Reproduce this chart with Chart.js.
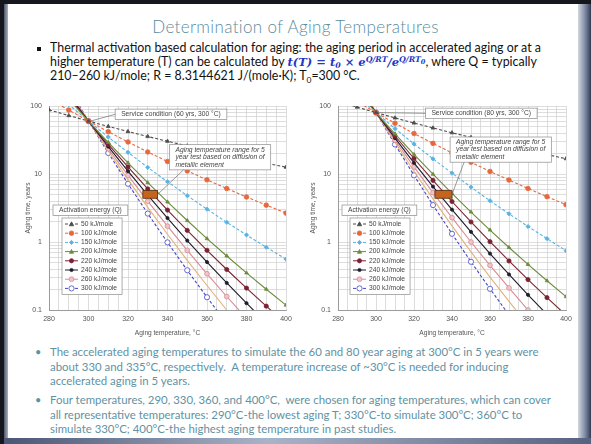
<!DOCTYPE html>
<html>
<head>
<meta charset="utf-8">
<script src="https://cdn.jsdelivr.net/npm/chart.js@4.4.1/dist/chart.umd.min.js"></script>
<style>
  html, body { margin: 0; padding: 0; }
  body { width: 591px; height: 444px; position: relative; overflow: hidden; background: #15171d; font-family: Lato, "Liberation Sans", sans-serif; }
  #frame-left { position: absolute; left: 4px; top: 4px; width: 5px; height: 436px; background: linear-gradient(to right, #4f586c, #c0c6d2); }
  #frame-right { position: absolute; left: 578px; top: 4px; width: 13px; height: 440px; background: linear-gradient(to right, #d3d7df, #7d89a3 55%, #333b52); }
  #frame-bottom { position: absolute; left: 4px; top: 438px; width: 587px; height: 6px; background: linear-gradient(to right, #4a5673, #a9b3c8 45%, #56627f); }
  #slide { position: absolute; left: 8px; top: 4px; width: 570px; height: 434px; background: #fff; }
  #title { position: absolute; left: 0; top: 16px; width: 591px; text-align: center; font-size: 17px; font-weight: 300; letter-spacing: 0.35px; color: #5a8d9e; }
  .txt { position: absolute; left: 50px; white-space: nowrap; }
  #b1 { top: 41px; font-size: 12.4px; line-height: 14px; color: #111; }
  #b2 { top: 345px; font-size: 11.4px; line-height: 14.6px; color: #5f92a3; }
  #b3 { top: 393px; font-size: 11.4px; line-height: 14.6px; color: #5f92a3; }
  .sq { position: absolute; left: 37px; width: 4px; height: 4px; background: #111; }
  .dot { position: absolute; left: 35px; font-size: 11px; color: #5f92a3; }
  .f { font-family: "DejaVu Serif", "Liberation Serif", serif; font-weight: bold; font-style: italic; color: #2436c8; font-size: 11.5px; }
  .f .n { font-style: normal; }
  sub, sup { font-size: 0.68em; line-height: 0; position: relative; vertical-align: baseline; }
  sub { top: 0.3em; }
  sup { top: -0.5em; }
  sup sub { font-size: 0.85em; top: 0.25em; }
  canvas { position: absolute; }
  #chartLeft { left: 20px; top: 98px; }
  #chartRight { left: 300px; top: 98px; }
</style>
</head>
<body>
<div id="frame-left"></div>
<div id="frame-right"></div>
<div id="frame-bottom"></div>
<div id="slide"></div>

<div id="title">Determination of Aging Temperatures</div>

<div class="sq" style="top:47px"></div>
<div id="b1" class="txt">
  <div>Thermal activation based calculation for aging: the aging period in accelerated aging or at a</div>
  <div>higher temperature (T) can be calculated by <span class="f">t(T) <span class="n">=</span> t<sub>0</sub> <span class="n">×</span> e<sup>Q/RT</sup>/e<sup>Q/RT<sub>0</sub></sup></span>, where Q = typically</div>
  <div>210–260 kJ/mole; R = 8.3144621 J/(mole·K); T<sub>0</sub>=300 °C.</div>
</div>

<canvas id="chartLeft" width="272" height="245"></canvas>
<canvas id="chartRight" width="272" height="245"></canvas>

<div class="dot" style="top:345px">•</div>
<div id="b2" class="txt">
  <div>The accelerated aging temperatures to simulate the 60 and 80 year aging at 300°C in 5 years were</div>
  <div>about 330 and 335°C, respectively.&nbsp; A temperature increase of ~30°C is needed for inducing</div>
  <div>accelerated aging in 5 years.</div>
</div>
<div class="dot" style="top:393px">•</div>
<div id="b3" class="txt">
  <div>Four temperatures, 290, 330, 360, and 400°C,&nbsp; were chosen for aging temperatures, which can cover</div>
  <div>all representative temperatures: 290°C-the lowest aging T; 330°C-to simulate 300°C; 360°C to</div>
  <div>simulate 330°C; 400°C-the highest aging temperature in past studies.</div>
</div>

<script>
// aging temperature, °C (one point every 10 °C)
const temperatures = [280, 290, 300, 310, 320, 330, 340, 350, 360, 370, 380, 390, 400];
const yLabelTicks = [0.1, 1, 10, 100];

// aging time, years - 60 yrs service at 300 °C
const q50_60  = [87.7, 72.3, 60, 50.1, 42.1, 35.6, 30.3, 25.9, 22.2, 19.2, 16.6, 14.4, 12.6];
const q100_60 = [128, 87.1, 60, 41.9, 29.6, 21.1, 15.3, 11.1, 8.21, 6.11, 4.59, 3.48, 2.66];
const q150_60 = [187, 105, 60, 35.0, 20.8, 12.5, 7.70, 4.80, 3.04, 1.95, 1.27, 0.837, 0.559];
const q200_60 = [274, 126, 60, 29.2, 14.6, 7.44, 3.88, 2.07, 1.12, 0.623, 0.351, 0.202, 0.118];
const q220_60 = [318, 136, 60, 27.2, 12.7, 6.04, 2.95, 1.48, 0.755, 0.394, 0.210, 0.114, 0.063];
const q240_60 = [371, 147, 60, 25.3, 11.0, 4.90, 2.25, 1.05, 0.507, 0.250, 0.126, 0.0645, 0.0338];
const q260_60 = [431, 158, 60, 23.5, 9.53, 3.98, 1.71, 0.753, 0.341, 0.158, 0.0751, 0.0365, 0.0181];
const q280_60 = [502, 170, 60, 21.9, 8.27, 3.23, 1.30, 0.538, 0.229, 0.100, 0.0449, 0.0206, 0.0097];
const q300_60 = [584, 184, 60, 20.4, 7.18, 2.62, 0.987, 0.384, 0.154, 0.0634, 0.0269, 0.0117, 0.0052];

// aging time, years - 80 yrs service at 300 °C
const q50_80  = [116.9, 96.4, 80, 66.8, 56.2, 47.5, 40.4, 34.5, 29.6, 25.5, 22.1, 19.3, 16.8];
const q100_80 = [171, 116, 80, 55.8, 39.4, 28.2, 20.4, 14.9, 10.9, 8.15, 6.12, 4.64, 3.54];
const q150_80 = [250, 140, 80, 46.6, 27.7, 16.7, 10.3, 6.40, 4.05, 2.60, 1.69, 1.12, 0.745];
const q200_80 = [365, 169, 80, 38.9, 19.4, 9.92, 5.18, 2.76, 1.50, 0.830, 0.468, 0.269, 0.157];
const q220_80 = [425, 182, 80, 36.2, 16.9, 8.05, 3.94, 1.97, 1.01, 0.526, 0.280, 0.152, 0.084];
const q240_80 = [494, 196, 80, 33.7, 14.6, 6.53, 2.99, 1.41, 0.676, 0.333, 0.167, 0.086, 0.045];
const q260_80 = [575, 211, 80, 31.4, 12.7, 5.30, 2.28, 1.00, 0.454, 0.211, 0.100, 0.0486, 0.0242];
const q280_80 = [669, 227, 80, 29.2, 11.0, 4.30, 1.73, 0.717, 0.305, 0.134, 0.0599, 0.0275, 0.0129];
const q300_80 = [779, 245, 80, 27.2, 9.57, 3.49, 1.32, 0.512, 0.205, 0.0846, 0.0358, 0.0156, 0.0069];

// legend names (the 280 kJ/mole curve has no legend entry)
const seriesNames = ['50 kJ/mole', '100 kJ/mole', '150 kJ/mole', '200 kJ/mole', '220 kJ/mole',
                     '240 kJ/mole', '260 kJ/mole', '', '300 kJ/mole'];

// service points and the 5-year aging window
const serviceLeft = [300, 60];
const serviceRight = [300, 80];
const windowLeft = [327.5, 335];
const windowRight = [331, 340];
const windowYears = [4.4, 5.7];

const seriesStyles = [
    {color: '#4d4d4d', dash: [3, 2], point: 'triangle', r: 2.2, fill: '#4d4d4d'},
    {color: '#e9673d', dash: [3, 2], point: 'circle', r: 2.3, fill: '#e9673d'},
    {color: '#56b3e3', dash: [3, 2], point: 'rectRot', r: 2.1, fill: '#56b3e3'},
    {color: '#6d8b3c', dash: [], point: 'triangle', r: 2.1, fill: '#6d8b3c'},
    {color: '#7b2232', dash: [], point: 'circle', r: 2.1, fill: '#7b2232'},
    {color: '#1d1d2b', dash: [], point: 'circle', r: 1.6, fill: '#1d1d2b'},
    {color: '#d88a94', dash: [], point: 'circle', r: 2.4, fill: '#f2c4ca'},
    {color: '#e2b27a', dash: [], point: false, r: 0, fill: '#e2b27a'},
    {color: '#4646c8', dash: [3, 2], point: 'circle', r: 2.6, fill: '#ffffff'}
];

var NOTE_FONT = '6.7px "Liberation Sans", Arial, sans-serif';
var NOTE_LINE = 7.4;

function drawMarker(ctx, style, x, y) {
    if (!style.point) return;
    var r = style.r;
    ctx.save();
    ctx.setLineDash([]);
    ctx.fillStyle = style.fill;
    ctx.strokeStyle = style.color;
    ctx.lineWidth = 0.8;
    ctx.beginPath();
    if (style.point === 'circle') {
        ctx.arc(x, y, r, 0, Math.PI * 2);
    } else if (style.point === 'triangle') {
        ctx.moveTo(x, y - r);
        ctx.lineTo(x + r, y + r * 0.8);
        ctx.lineTo(x - r, y + r * 0.8);
        ctx.closePath();
    } else {
        ctx.moveTo(x, y - r);
        ctx.lineTo(x + r, y);
        ctx.lineTo(x, y + r);
        ctx.lineTo(x - r, y);
        ctx.closePath();
    }
    ctx.fill();
    ctx.stroke();
    ctx.restore();
}

function textBox(ctx, lines, x, y, italic) {
    ctx.font = (italic ? 'italic ' : '') + NOTE_FONT;
    var w = 0;
    lines.forEach(function (l) { w = Math.max(w, ctx.measureText(l).width); });
    var box = {x: x, y: y, w: w + 12, h: lines.length * NOTE_LINE + 3};
    ctx.fillStyle = '#fff';
    ctx.strokeStyle = '#8c8c8c';
    ctx.lineWidth = 0.7;
    ctx.fillRect(box.x, box.y, box.w, box.h);
    ctx.strokeRect(box.x, box.y, box.w, box.h);
    ctx.fillStyle = '#444';
    ctx.textBaseline = 'middle';
    ctx.textAlign = 'left';
    lines.forEach(function (l, i) { ctx.fillText(l, box.x + 6, box.y + 1.5 + NOTE_LINE / 2 + i * NOTE_LINE); });
    return box;
}

// service / aging call-outs and the activation energy legend
function makeNotes(cfg) {
    return {
        id: 'notes',
        afterDraw: function (chart) {
            var ctx = chart.ctx, a = chart.chartArea;
            var xs = chart.scales.x, ys = chart.scales.y;
            ctx.save();

            // 5-year window marker
            var rx0 = xs.getPixelForValue(cfg.window[0]), rx1 = xs.getPixelForValue(cfg.window[1]);
            var ry0 = ys.getPixelForValue(windowYears[1]), ry1 = ys.getPixelForValue(windowYears[0]);
            ctx.fillStyle = '#c4651f';
            ctx.strokeStyle = '#5a2a0a';
            ctx.lineWidth = 0.8;
            ctx.fillRect(rx0, ry0, rx1 - rx0, ry1 - ry0);
            ctx.strokeRect(rx0, ry0, rx1 - rx0, ry1 - ry0);

            // service condition call-out
            var px = xs.getPixelForValue(cfg.service[0]), py = ys.getPixelForValue(cfg.service[1]);
            var sb = textBox(ctx, [cfg.serviceText], xs.getPixelForValue(cfg.serviceBox[0]), ys.getPixelForValue(cfg.serviceBox[1]));
            ctx.strokeStyle = '#6e6e6e';
            ctx.lineWidth = 0.7;
            ctx.beginPath();
            ctx.moveTo(px + 2, py);
            ctx.lineTo(sb.x, sb.y + sb.h / 2);
            ctx.stroke();

            // aging temperature range call-out
            var ab = textBox(ctx, ['Aging temperature range for 5', 'year test based on diffusion of', 'metallic element'],
                xs.getPixelForValue(cfg.agingBox[0]), ys.getPixelForValue(cfg.agingBox[1]), true);
            ctx.strokeStyle = '#6e6e6e';
            ctx.beginPath();
            ctx.moveTo(ab.x + 14, ab.y + ab.h);
            ctx.lineTo(rx1, (ry0 + ry1) / 2);
            ctx.stroke();

            // legend title
            textBox(ctx, ['Activation energy (Q)'], a.left + 4, a.top + 99);

            // legend entries
            var lx = a.left + cfg.legendInset, ly = a.top + 112;
            var entries = [], tw = 0;
            ctx.font = NOTE_FONT;
            chart.data.datasets.forEach(function (ds, i) {
                if (ds.label) { entries.push(i); tw = Math.max(tw, ctx.measureText(ds.label).width); }
            });
            var bw = tw + 24, step = 9.2;
            ctx.fillStyle = '#fff';
            ctx.strokeStyle = '#8c8c8c';
            ctx.lineWidth = 0.7;
            ctx.fillRect(lx, ly, bw, entries.length * step + 3);
            ctx.strokeRect(lx, ly, bw, entries.length * step + 3);
            ctx.textBaseline = 'middle';
            entries.forEach(function (idx, k) {
                var st = seriesStyles[idx], yy = ly + 6 + k * step;
                ctx.strokeStyle = st.color;
                ctx.lineWidth = 1;
                ctx.setLineDash(st.dash);
                ctx.beginPath();
                ctx.moveTo(lx + 3, yy);
                ctx.lineTo(lx + 16, yy);
                ctx.stroke();
                ctx.setLineDash([]);
                drawMarker(ctx, st, lx + 9.5, yy);
                ctx.fillStyle = '#444';
                ctx.fillText(chart.data.datasets[idx].label, lx + 19, yy);
            });
            ctx.restore();
        }
    };
}

function logGrid() {
    var vals = [];
    for (var i = 0; i < yLabelTicks.length - 1; i++) {
        for (var m = 1; m < 10; m++) vals.push({value: yLabelTicks[i] * m});
    }
    vals.push({value: yLabelTicks[yLabelTicks.length - 1]});
    return vals;
}

function tempGrid() {
    var vals = [];
    for (var t = temperatures[0]; t <= temperatures[temperatures.length - 1]; t += 5) vals.push({value: t});
    return vals;
}

function buildChart(id, seriesList, cfg) {
    return new Chart(document.getElementById(id), {
        type: 'line',
        data: {
            datasets: seriesList.map(function (vals, i) {
                var st = seriesStyles[i];
                return {
                    label: seriesNames[i],
                    data: temperatures.map(function (t, j) { return {x: t, y: vals[j]}; }),
                    borderColor: st.color,
                    backgroundColor: st.fill,
                    borderWidth: 1.1,
                    borderDash: st.dash,
                    pointStyle: st.point,
                    pointRadius: st.r,
                    pointBorderColor: st.color,
                    pointBackgroundColor: st.fill,
                    pointBorderWidth: 0.8,
                    tension: 0
                };
            })
        },
        options: {
            responsive: false,
            animation: false,
            events: [],
            layout: {padding: {top: 8, right: 6, left: cfg.padLeft, bottom: 0}},
            plugins: {legend: {display: false}, tooltip: {enabled: false}},
            scales: {
                x: {
                    type: 'linear', min: 280, max: 400,
                    afterBuildTicks: function (s) { s.ticks = tempGrid(); },
                    afterFit: function (s) { s.height = 33; s.paddingLeft = 0; s.paddingRight = 0; },
                    ticks: {
                        autoSkip: false, maxRotation: 0, padding: 5, color: '#555',
                        font: {size: 7, family: '"Liberation Sans", Arial'},
                        callback: function (v) { return v % 20 === 0 ? String(v) : ''; }
                    },
                    grid: {color: '#cfcfcf', lineWidth: 0.7, drawTicks: false},
                    border: {color: '#8a8a8a', width: 0.8},
                    title: {display: true, text: 'Aging temperature, °C', color: '#555',
                            font: {size: 6.6, family: '"Liberation Sans", Arial'}, padding: {top: 0, bottom: 6}}
                },
                y: {
                    type: 'logarithmic', min: 0.1, max: 100,
                    afterBuildTicks: function (s) { s.ticks = logGrid(); },
                    afterFit: function (s) { s.width = cfg.axisWidth; s.paddingTop = 0; s.paddingBottom = 0; },
                    ticks: {
                        autoSkip: false, padding: 7, color: '#555',
                        font: {size: 7, family: '"Liberation Sans", Arial'},
                        callback: function (v) { return yLabelTicks.indexOf(v) >= 0 ? String(v) : ''; }
                    },
                    grid: {color: '#cfcfcf', lineWidth: 0.7, drawTicks: false},
                    border: {color: '#8a8a8a', width: 0.8},
                    title: {display: true, text: 'Aging time, years', color: '#555',
                            font: {size: 6.6, family: '"Liberation Sans", Arial'}}
                }
            }
        },
        plugins: [makeNotes(cfg)]
    });
}

buildChart('chartLeft',
    [q50_60, q100_60, q150_60, q200_60, q220_60, q240_60, q260_60, q280_60, q300_60],
    {padLeft: 0, axisWidth: 29, legendInset: 13, service: serviceLeft, window: windowLeft,
     serviceText: 'Service condition (60 yrs, 300 °C)', serviceBox: [313.5, 90], agingBox: [341, 27]});

buildChart('chartRight',
    [q50_80, q100_80, q150_80, q200_80, q220_80, q240_80, q260_80, q280_80, q300_80],
    {padLeft: 5, axisWidth: 33, legendInset: 12, service: serviceRight, window: windowRight,
     serviceText: 'Service condition (80 yrs, 300 °C)', serviceBox: [326, 93], agingBox: [339, 35]});
</script>
</body>
</html>
